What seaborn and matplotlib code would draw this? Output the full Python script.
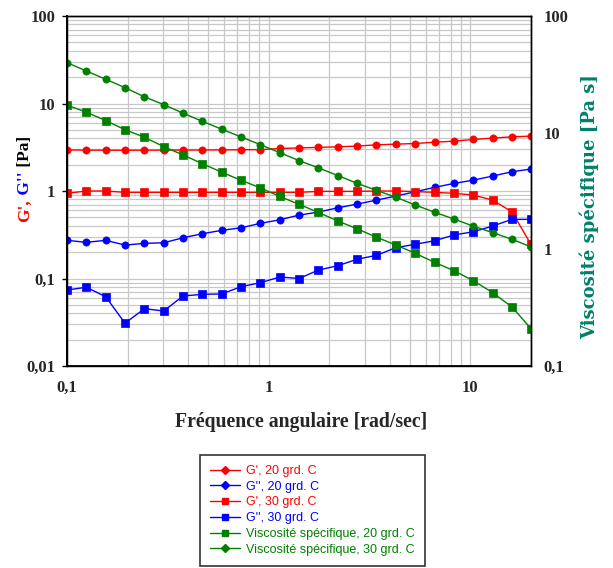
import numpy as np
import pandas as pd
import matplotlib
matplotlib.use("Agg")
import matplotlib.pyplot as plt
from matplotlib.ticker import FixedLocator, FixedFormatter, LogLocator, NullFormatter
from matplotlib.lines import Line2D
import seaborn as sns

# Angular frequency sweep [rad/s]
freq = [0.1, 0.1247, 0.1555, 0.1940, 0.2419, 0.3017, 0.3763, 0.4693, 0.5853,
        0.7300, 0.9104, 1.135, 1.416, 1.766, 2.203, 2.747, 3.426, 4.273, 5.329,
        6.646, 8.289, 10.34, 12.89, 16.08, 20.0]

# Storage modulus G' [Pa]
g_prime_20 = [2.95, 2.93, 2.93, 2.92, 2.93, 2.93, 2.94, 2.94, 2.95, 2.96, 2.97,
              3.06, 3.11, 3.15, 3.20, 3.26, 3.37, 3.43, 3.49, 3.61, 3.71, 3.88,
              4.02, 4.16, 4.24]
g_prime_30 = [0.94, 1.0, 1.0, 0.965, 0.965, 0.965, 0.965, 0.965, 0.965, 0.965,
              0.965, 0.965, 0.965, 0.99, 0.99, 0.99, 1.0, 1.0, 0.985, 0.965,
              0.94, 0.90, 0.787, 0.579, 0.245]

# Loss modulus G'' [Pa]
g_second_20 = [0.273, 0.259, 0.273, 0.241, 0.252, 0.256, 0.292, 0.325, 0.355,
               0.380, 0.427, 0.469, 0.530, 0.575, 0.643, 0.708, 0.787, 0.875,
               0.98, 1.10, 1.22, 1.33, 1.48, 1.66, 1.78]
g_second_30 = [0.0739, 0.0794, 0.0620, 0.0308, 0.0452, 0.0425, 0.0631, 0.0660,
               0.0666, 0.0806, 0.0895, 0.104, 0.100, 0.125, 0.140, 0.166, 0.184,
               0.225, 0.246, 0.270, 0.314, 0.342, 0.397, 0.474, 0.474]

# Specific viscosity [Pa s]
visc_20 = [17.2, 15.0, 12.7, 10.6, 9.14, 7.59, 6.44, 5.42, 4.58, 3.91, 3.36,
           2.84, 2.43, 2.07, 1.75, 1.50, 1.27, 1.09, 0.925, 0.774, 0.656,
           0.539, 0.426, 0.321, 0.209]
visc_30 = [39.8, 33.8, 28.7, 24.3, 20.3, 17.4, 14.7, 12.5, 10.7, 9.19, 7.89,
           6.74, 5.76, 4.99, 4.29, 3.68, 3.20, 2.80, 2.40, 2.08, 1.82, 1.58,
           1.39, 1.22, 1.05]

x_ticks = [0.1, 1, 10]
x_tick_labels = ["0,1", "1", "10"]
left_ticks = [0.01, 0.1, 1, 10, 100]
left_tick_labels = ["0,01", "0,1", "1", "10", "100"]
right_ticks = [0.1, 1, 10, 100]
right_tick_labels = ["0,1", "1", "10", "100"]

legend_labels = ["G', 20 grd. C", "G'', 20 grd. C", "G', 30 grd. C",
                 "G'', 30 grd. C", "Viscosité spécifique, 20 grd. C",
                 "Viscosité spécifique, 30 grd. C"]

RED, BLUE, GREEN = "#ff0000", "#0000ff", "#008000"
TEAL = "#00806a"

sns.set_style("white")
plt.rcParams["font.family"] = ["Liberation Serif", "DejaVu Serif"]

W, H = 613, 568
fig = plt.figure(figsize=(W / 100, H / 100), dpi=100)
ax = fig.add_axes([67 / W, 1 - 366 / H, (531 - 67) / W, 350 / H])
ax.set_xscale("log")
ax.set_yscale("log")
ax2 = ax.twinx()
ax2.set_yscale("log")


def draw(axis, y, color, marker, ms):
    sns.lineplot(x=freq, y=y, ax=axis, color=color, marker=marker,
                 markersize=ms, markeredgecolor=color, markeredgewidth=0.5,
                 linewidth=1.0, sort=False)


draw(ax, g_prime_20, RED, "o", 5.2)
draw(ax, g_second_20, BLUE, "o", 5.2)
draw(ax, g_prime_30, RED, "s", 5.6)
draw(ax, g_second_30, BLUE, "s", 5.6)
draw(ax2, visc_20, GREEN, "s", 5.6)
draw(ax2, visc_30, GREEN, "o", 5.2)

for a in (ax, ax2):
    a.set_xlabel("")
    a.set_ylabel("")

ax.set_xlim(0.1, 20)
ax.set_ylim(0.01, 100)
ax2.set_ylim(0.1, 100)

# grid on the primary axes (major + minor decades)
ax.xaxis.set_minor_locator(LogLocator(base=10, subs=np.arange(2, 10)))
ax.yaxis.set_minor_locator(LogLocator(base=10, subs=np.arange(2, 10)))
ax.xaxis.set_minor_formatter(NullFormatter())
ax.yaxis.set_minor_formatter(NullFormatter())
ax.grid(True, which="both", color="#c8c8c8", linewidth=0.9)
ax.set_axisbelow(True)

ax.xaxis.set_major_locator(FixedLocator(x_ticks))
ax.xaxis.set_major_formatter(FixedFormatter(x_tick_labels))
ax.yaxis.set_major_locator(FixedLocator(left_ticks))
ax.yaxis.set_major_formatter(FixedFormatter(left_tick_labels))
ax.tick_params(which="major", direction="out", length=3.8, width=1.0,
               color="black", labelsize=12, pad=4.5)
ax.tick_params(axis="both", which="minor", length=0)
ax.tick_params(axis="x", pad=6)

ax2.yaxis.set_major_locator(FixedLocator(right_ticks))
ax2.yaxis.set_major_formatter(FixedFormatter(right_tick_labels))
ax2.yaxis.set_minor_locator(LogLocator(base=10, subs=np.arange(2, 10)))
ax2.yaxis.set_minor_formatter(NullFormatter())
ax2.tick_params(axis="y", which="both", length=0, labelsize=12, pad=9)
ax2.grid(False)

for lbl in ax.get_xticklabels() + ax.get_yticklabels() + ax2.get_yticklabels():
    lbl.set_fontweight("bold")

for a in (ax, ax2):
    for side, sp in a.spines.items():
        sp.set_color("black")
        sp.set_linewidth(1.0)
ax.spines["left"].set_linewidth(1.4)
ax.spines["bottom"].set_linewidth(1.3)

# axis titles
fig.text(301 / W, 1 - 422 / H, "Fréquence angulaire [rad/sec]",
         ha="center", va="center", fontsize=14.2, fontweight="bold")

fig.text(589 / W, 1 - 207 / H, "Viscosité spécifique [Pa s]", rotation=90,
         ha="center", va="center", fontsize=13, fontweight="bold", color=TEAL,
         family=["DejaVu Serif"])

# multi-coloured left title, stacked bottom to top
parts = [("G',", RED), (" G''", BLUE), (" [Pa]", "black")]
renderer = fig.canvas.get_renderer()
pieces = []
for s, c in parts:
    t = fig.text(0, 0, s, color=c, rotation=90, rotation_mode="anchor",
                 ha="left", va="baseline", fontsize=12.5, fontweight="bold")
    pieces.append(t)
heights = [t.get_window_extent(renderer).height for t in pieces]
y_px = (H - 179) - sum(heights) / 2
for t, h in zip(pieces, heights):
    t.set_position((29 / W, y_px / H))
    y_px += h

# legend
handles = [
    Line2D([], [], color=RED, marker="D", markersize=3.8, lw=1.0),
    Line2D([], [], color=BLUE, marker="D", markersize=3.8, lw=1.0),
    Line2D([], [], color=RED, marker="s", markersize=5, lw=1.0),
    Line2D([], [], color=BLUE, marker="s", markersize=5, lw=1.0),
    Line2D([], [], color=GREEN, marker="s", markersize=5, lw=1.0),
    Line2D([], [], color=GREEN, marker="D", markersize=3.8, lw=1.0),
]
leg = fig.legend(handles, legend_labels, loc="upper left",
                 bbox_to_anchor=(200 / W, 1 - 455 / H),
                 bbox_transform=fig.transFigure, borderaxespad=0,
                 frameon=True, fancybox=False, edgecolor="black",
                 prop={"family": "Liberation Sans", "size": 9},
                 labelcolor=[RED, BLUE, RED, BLUE, GREEN, GREEN],
                 handlelength=2.4, handletextpad=0.5, labelspacing=0.3,
                 borderpad=0.8)
leg.get_frame().set_linewidth(1.2)

fig.savefig("out.png", dpi=100)
